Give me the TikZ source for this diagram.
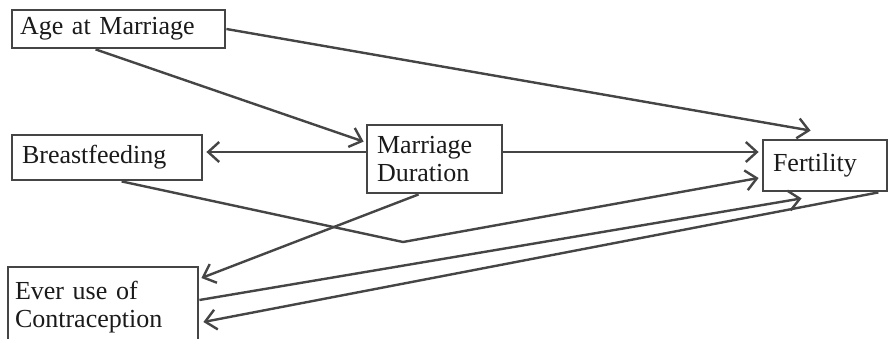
\documentclass[tikz,border=0pt]{standalone}
\usepackage{fontspec}
\setmainfont{Liberation Serif}
\usetikzlibrary{arrows.meta,calc}
\definecolor{ink}{HTML}{454545}
\definecolor{txt}{HTML}{1A1A1A}
\begin{document}
\begin{tikzpicture}[x=1pt,y=-1pt,
  box/.style={draw=ink, line width=2.8pt, inner ysep=0pt, anchor=center,
              align=left, text=txt, font=\fontsize{26}{28}\selectfont},
  link/.style={draw=ink, line width=2.4pt, line join=round,
               -{Straight Barb[length=11pt,width=20pt]}}]
  % canvas
  \fill[white] (0,0) rectangle (889,338);
  \useasboundingbox (0,0) rectangle (889,338);

  % variables
  \node[box, inner xsep=8pt, minimum width=213pt, minimum height=38pt, text width=197pt]
    (age) at (118.5,29) {Age at Marriage};
  \node[box, inner xsep=10pt, minimum width=190pt, minimum height=45pt, text width=170pt]
    (breast) at (107,157.5) {Breastfeeding};
  \node[box, inner xsep=10pt, minimum width=135pt, minimum height=68pt, text width=115pt]
    (md) at (434.5,159) {Marriage\\Duration};
  \node[box, inner xsep=10pt, minimum width=124pt, minimum height=51pt, text width=104pt]
    (fert) at (825,165.5) {Fertility};
  \node[box, inner xsep=7pt, minimum width=190pt, minimum height=80pt, text width=176pt]
    (ever) at (103,307) {Ever use of\\Contraception};

  \coordinate (bend) at (403,242);

  % paths
  \draw[link] (age.east) -- ([xshift=49pt,yshift=8pt]fert.north west);
  \draw[link] ([xshift=85pt]age.south west) -- ([xshift=-2pt,yshift=-18pt]md.north west);
  \draw[link] ([yshift=7pt]md.west) -- ([xshift=3pt,yshift=5.5pt]breast.east);
  \draw[link] ([yshift=7pt]md.east) -- ([xshift=-3pt,yshift=13.5pt]fert.west);
  \draw[link] ([xshift=111pt]breast.south west) -- (bend) -- ([xshift=-3pt,yshift=-12.5pt]fert.west);
  \draw[link] ([xshift=53pt]md.south west) -- ([xshift=2pt,yshift=29pt]ever.east);
  \draw[link] ([yshift=7pt]ever.east) -- ([xshift=40pt,yshift=-6pt]fert.south west);
  \draw[link] ([xshift=-10pt]fert.south east) -- ([xshift=4pt,yshift=-15pt]ever.east);
\end{tikzpicture}
\end{document}
